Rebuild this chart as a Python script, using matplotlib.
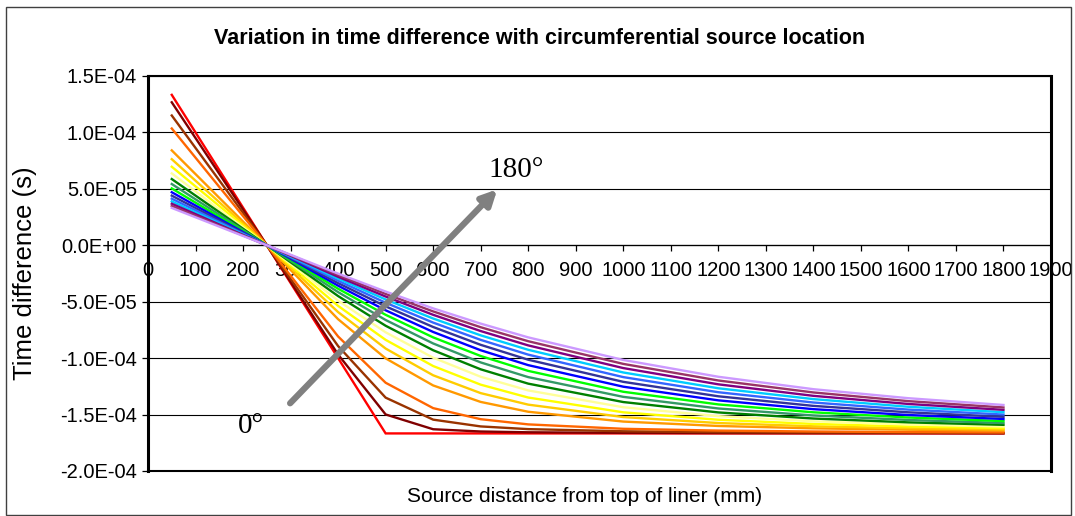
import matplotlib
matplotlib.use('Agg')
import matplotlib.pyplot as plt
from matplotlib.ticker import FuncFormatter, FixedLocator
from matplotlib.patches import Rectangle
from matplotlib.lines import Line2D

# ---------------- data ----------------
distance_mm = [50, 250, 400, 500, 600, 700, 800, 1000, 1200, 1400, 1600, 1800]

# time differences, microseconds, one list per circumferential angle
dt_000 = [133.3, 0, -100.0, -166.7, -166.7, -166.7, -166.7, -166.7, -166.7, -166.7, -166.7, -166.7]
dt_010 = [126.7, 0, -96.8, -149.9, -163.0, -165.0, -165.7, -166.2, -166.4, -166.5, -166.5, -166.6]
dt_020 = [115.0, 0, -89.3, -135.0, -154.5, -160.5, -162.9, -164.8, -165.6, -165.9, -166.1, -166.3]
dt_030 = [103.5, 0, -80.8, -121.8, -144.3, -154.1, -158.7, -162.6, -164.2, -165.0, -165.5, -165.8]
dt_050 = [84.1, 0, -65.5, -100.2, -124.2, -138.8, -147.5, -156.2, -160.1, -162.2, -163.4, -164.2]
dt_060 = [76.3, 0, -59.2, -91.5, -115.2, -131.0, -141.2, -152.2, -157.5, -160.4, -162.1, -163.2]
dt_070 = [69.6, 0, -53.7, -83.8, -107.0, -123.5, -134.9, -148.0, -154.6, -158.3, -160.5, -162.0]
dt_080 = [63.7, 0, -49.1, -77.1, -99.6, -116.5, -128.6, -143.5, -151.4, -156.0, -158.8, -160.6]
dt_090 = [58.7, 0, -45.0, -71.3, -93.0, -109.9, -122.6, -138.9, -148.1, -153.5, -156.9, -159.1]
dt_100 = [54.3, 0, -41.5, -66.2, -87.0, -103.8, -116.8, -134.3, -144.6, -150.8, -154.8, -157.5]
dt_110 = [50.4, 0, -38.5, -61.6, -81.6, -98.1, -111.3, -129.8, -141.0, -148.0, -152.6, -155.8]
dt_120 = [47.0, 0, -35.8, -57.6, -76.8, -93.0, -106.2, -125.3, -137.4, -145.2, -150.4, -153.9]
dt_130 = [44.0, 0, -33.5, -54.1, -72.4, -88.2, -101.4, -121.0, -133.8, -142.3, -148.0, -152.0]
dt_140 = [41.3, 0, -31.4, -50.9, -68.5, -83.8, -96.9, -116.8, -130.2, -139.3, -145.6, -150.0]
dt_150 = [38.9, 0, -29.5, -48.0, -64.9, -79.8, -92.6, -112.7, -126.7, -136.3, -143.1, -147.9]
dt_160 = [36.8, 0, -27.9, -45.4, -61.6, -76.0, -88.7, -108.8, -123.2, -133.4, -140.6, -145.8]
dt_170 = [34.9, 0, -26.4, -43.1, -58.6, -72.6, -85.0, -105.1, -119.8, -130.4, -138.1, -143.7]
dt_180 = [33.1, 0, -25.1, -41.0, -55.9, -69.4, -81.6, -101.6, -116.5, -127.5, -135.5, -141.5]

series = [dt_000, dt_010, dt_020, dt_030, dt_050, dt_060, dt_070, dt_080, dt_090,
          dt_100, dt_110, dt_120, dt_130, dt_140, dt_150, dt_160, dt_170, dt_180]

colors = ['#FF0000', '#800000', '#993300', '#FF6600', '#FF9900', '#FFCC00',
          '#FFFF00', '#FFFF99', '#008000', '#339966', '#00FF00', '#0000FF',
          '#333399', '#3366FF', '#00CCFF', '#800080', '#993366', '#CC99FF']

x_ticks = list(range(0, 2000, 100))
y_ticks = [-2.0e-4, -1.5e-4, -1.0e-4, -5.0e-5, 0.0, 5.0e-5, 1.0e-4, 1.5e-4]

# arrow annotation (data coords: mm, s)
arrow_tail = (299, -1.40e-4)
arrow_head = (735, 4.96e-5)
label_0_pos = (217, -1.60e-4)
label_180_pos = (775, 6.65e-5)

title = 'Variation in time difference with circumferential source location'
x_label = 'Source distance from top of liner (mm)'
y_label = 'Time difference (s)'

# ---------------- figure ----------------
plt.rcParams['font.family'] = ['Liberation Sans', 'DejaVu Sans']

W, H = 1075, 516
fig = plt.figure(figsize=(W / 100, H / 100), dpi=100)
ax = fig.add_axes([148 / W, 1 - 471 / H, 903 / W, 395 / H])

for ys, c in zip(series, colors):
    ax.plot(distance_mm, [v * 1e-6 for v in ys], color=c, lw=1.7, zorder=3,
            solid_joinstyle='miter')

ax.set_xlim(0, 1900)
ax.set_ylim(-2.0e-4, 1.5e-4)
ax.xaxis.set_major_locator(FixedLocator(x_ticks))
ax.yaxis.set_major_locator(FixedLocator(y_ticks))
ax.yaxis.set_major_formatter(FuncFormatter(lambda v, p: format(v, '.1E')))
ax.xaxis.set_major_formatter(FuncFormatter(lambda v, p: '%d' % round(v)))

ax.grid(axis='y', color='black', lw=0.8, zorder=1)
ax.set_axisbelow(True)

ax.spines['bottom'].set_position(('data', 0))
ax.spines['bottom'].set_linewidth(0.9)
for s in ['left', 'right']:
    ax.spines[s].set_linewidth(2.2)
ax.spines['top'].set_linewidth(1.5)
ax.add_line(Line2D([0, 1], [0, 0], transform=ax.transAxes, color='black',
                   lw=1.5, clip_on=False, zorder=5))

ax.tick_params(axis='x', direction='out', length=4, width=0.9, pad=7,
               labelsize=14.5)
ax.tick_params(axis='y', direction='out', length=4, width=0.9, pad=4,
               labelsize=14.5)

ax.annotate('', xy=arrow_head, xytext=arrow_tail,
            arrowprops=dict(arrowstyle='-|>,head_length=0.9,head_width=0.45',
                            color='#808080', lw=4.5, shrinkA=0, shrinkB=0),
            zorder=6)
ax.text(*label_0_pos, '0°', family=['Liberation Serif', 'DejaVu Serif'],
        fontsize=21, ha='center', va='center', zorder=7)
ax.text(*label_180_pos, '180°', family=['Liberation Serif', 'DejaVu Serif'],
        fontsize=21, ha='center', va='center', zorder=7)

fig.text(540 / W, 1 - 38 / H, title, ha='center', va='center',
         fontsize=15.5, fontweight='bold')
fig.text(585 / W, 1 - 497 / H, x_label, ha='center', va='center', fontsize=15)
fig.text(25 / W, 1 - 273 / H, y_label, ha='center', va='center',
         rotation=90, fontsize=18.5)

fig.patches.append(Rectangle((6 / W, 1 / H), 1065 / W, 508 / H,
                             transform=fig.transFigure, fill=False,
                             edgecolor='#404040', lw=1.0))

fig.savefig('out.png', dpi=100)
